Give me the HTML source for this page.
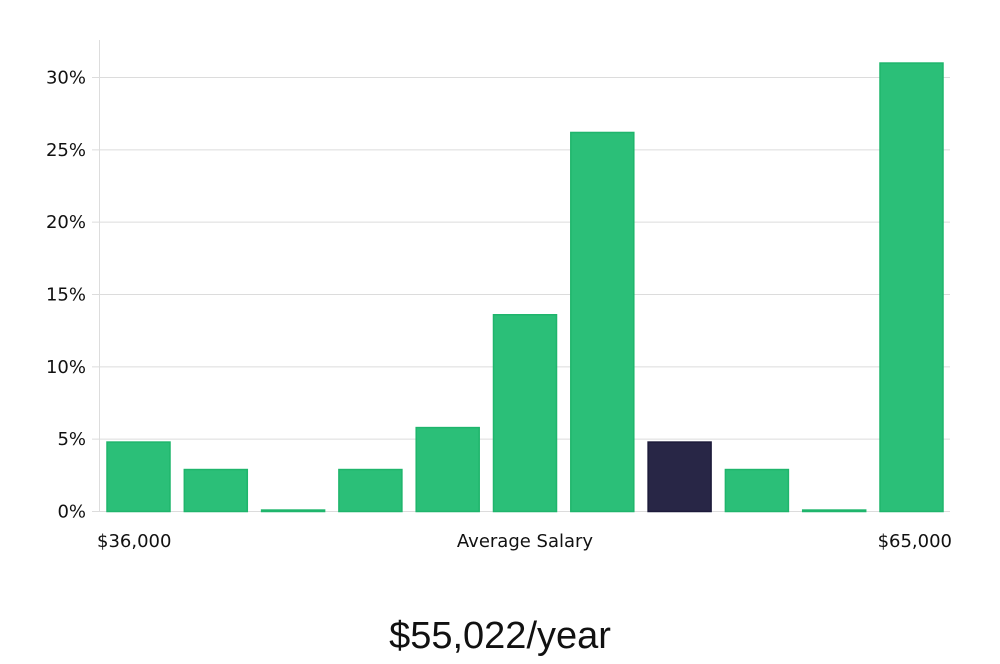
<!DOCTYPE html>
<html><head><meta charset="utf-8"><style>
body{margin:0;background:#fff;width:1000px;height:660px;overflow:hidden;font-family:"DejaVu Sans","Liberation Sans",sans-serif;}
svg text{font-family:"DejaVu Sans","Liberation Sans",sans-serif;}
</style></head><body>
<svg id="chart" width="1000" height="660" xmlns="http://www.w3.org/2000/svg">
<g id="grid"></g>
<g id="bars"></g>
<g id="yticks"></g>
<line x1="99.5" y1="40" x2="99.5" y2="512" stroke="#ddd"/>
<text x="97" y="547" font-size="18" fill="#111">$36,000</text>
<text x="525" y="547" font-size="18" fill="#111" text-anchor="middle">Average Salary</text>
<text x="952" y="547" font-size="18" fill="#111" text-anchor="end">$65,000</text>
<text x="500" y="648" font-size="38" fill="#111" text-anchor="middle" style="font-family:'Liberation Sans Narrow','Liberation Sans',sans-serif">$55,022/year</text>
</svg>
<script>
const values=[4.8,2.9,0.1,2.9,5.8,13.6,26.2,4.8,2.9,0.1,31.0];
const highlight=[false,false,false,false,false,false,false,true,false,false,false];
const tickValues=[0,5,10,15,20,25,30];
const tickLabels=["0%","5%","10%","15%","20%","25%","30%"];
const NS="http://www.w3.org/2000/svg";
const y0=511.5,yScale=(511.5-77.5)/30;
function y(v){return y0-v*yScale;}
const left=107,pitch=77.3,bw=63;
function x(i){return left+i*pitch;}
const grid=document.getElementById('grid'),yt=document.getElementById('yticks'),bars=document.getElementById('bars');
tickValues.forEach((t,i)=>{
 const l=document.createElementNS(NS,'line');
 
 
 l.setAttribute('x1',92);l.setAttribute('x2',950);l.setAttribute('y1',y(t));l.setAttribute('y2',y(t));
 l.setAttribute('stroke','#dcdcdc');grid.appendChild(l);
 const tx=document.createElementNS(NS,'text');
 
 
 tx.setAttribute('x',86);tx.setAttribute('y',y(t)+6);tx.setAttribute('text-anchor','end');
 tx.setAttribute('font-size','18');tx.setAttribute('fill','#111');tx.textContent=tickLabels[i];yt.appendChild(tx);
});
values.forEach((v,i)=>{
 const r=document.createElementNS(NS,'rect');
 
 
 const h=Math.max(1,v*yScale);
 r.setAttribute('x',x(i));r.setAttribute('y',y0-h);r.setAttribute('width',bw);r.setAttribute('height',h);
 r.setAttribute('fill',highlight[i]?'#282646':'#2bbf78');
 r.setAttribute('stroke',highlight[i]?'#1c1a3a':'#1fb56c');r.setAttribute('stroke-width','1.5');
 bars.appendChild(r);
});
</script>
</body></html>
